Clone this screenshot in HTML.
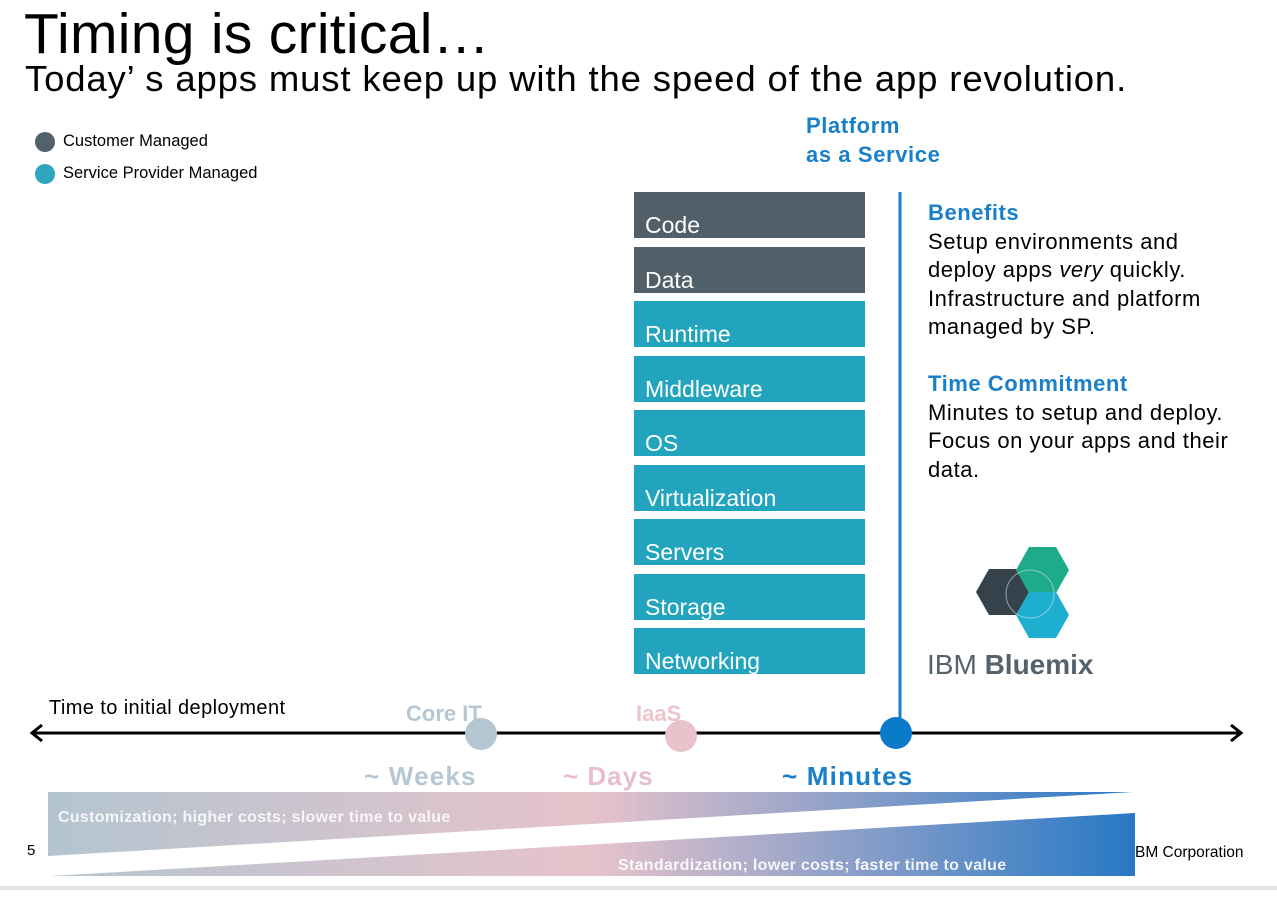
<!DOCTYPE html>
<html><head><meta charset="utf-8"><style>
body{margin:0;width:1277px;height:900px;background:#fff;position:relative;overflow:hidden;font-family:"Liberation Sans",Arial,sans-serif}
.a{position:absolute;white-space:nowrap}
.box{position:absolute;left:634px;width:231px;height:46px;color:#fff;font-size:23px;box-sizing:border-box;padding-left:11px;line-height:66px;overflow:hidden}
</style></head><body>
<div class="a" style="left:24px;top:2px;font-size:57px;line-height:64px;letter-spacing:0.3px">Timing is critical…</div>
<div class="a" style="left:25px;top:58px;font-size:36.5px;line-height:42px;letter-spacing:0.85px">Today’ s apps must keep up with the speed of the app revolution.</div>
<div class="a" style="left:35px;top:131px;font-size:16.5px;line-height:20px"><span style="display:inline-block;width:20px;height:20px;border-radius:50%;background:#52626d;vertical-align:middle;margin-right:8px"></span>Customer Managed</div>
<div class="a" style="left:35px;top:163px;font-size:16.5px;line-height:20px"><span style="display:inline-block;width:20px;height:20px;border-radius:50%;background:#2fa6c1;vertical-align:middle;margin-right:8px"></span>Service Provider Managed</div>
<div class="a" style="left:806px;top:111px;font-size:22px;line-height:29px;font-weight:bold;color:#1a7fc9;letter-spacing:0.6px">Platform<br>as a Service</div>
<div id="stack"></div>
<div class="a" style="left:928px;top:199px;font-size:22px;line-height:28.5px;letter-spacing:0.55px">
<b style="color:#1a7fc9">Benefits</b><br>Setup environments and<br>deploy apps <i>very</i> quickly.<br>Infrastructure and platform<br>managed by SP.<br><br><b style="color:#1a7fc9">Time Commitment</b><br>Minutes to setup and deploy.<br>Focus on your apps and their<br>data.</div>
<div class="a" style="left:927px;top:649px;font-size:28px;color:#55626b">IBM <b>Bluemix</b></div>
<div class="a" style="left:49px;top:697px;font-size:20px;letter-spacing:0.4px">Time to initial deployment</div>
<svg class="a" style="left:0;top:0" width="1277" height="900">
<defs><linearGradient id="g" x1="48" x2="1135" y1="0" y2="0" gradientUnits="userSpaceOnUse">
<stop offset="0" stop-color="#b3c5d0"/><stop offset="0.5" stop-color="#e7c3cb"/><stop offset="1" stop-color="#2778c6"/></linearGradient></defs>
<line x1="900" y1="192" x2="900" y2="733" stroke="#1a7fc9" stroke-width="3"/>
<g>
<polygon points="976,592 989,569 1016,569 1029,592 1016,615 989,615" fill="#36424b"/>
<polygon points="1016,570 1029,547 1056,547 1069,570 1056,593 1029,593" fill="#1eab8a"/>
<polygon points="1016,615 1029,592 1056,592 1069,615 1056,638 1029,638" fill="#1eaed0"/>
<circle cx="1030" cy="594" r="24" fill="none" stroke="#cfe3e6" stroke-width="1" opacity=".6"/></g>
<text x="406" y="721" font-size="22" font-weight="bold" fill="#b5c7d2">Core IT</text>
<text x="636" y="721" font-size="22" font-weight="bold" fill="#ecc4cc">IaaS</text>
<line x1="33" y1="733" x2="1240" y2="733" stroke="#000" stroke-width="3"/>
<polyline points="42,725 32,733 42,741" fill="none" stroke="#000" stroke-width="3"/>
<polyline points="1231,725 1241,733 1231,741" fill="none" stroke="#000" stroke-width="3"/>
<circle cx="481" cy="734" r="16" fill="#b4c6d2"/>
<circle cx="681" cy="736" r="16" fill="#e8c3cb"/>
<circle cx="896" cy="733" r="16" fill="#0a7bc8"/>
<text x="364" y="785" font-size="26" font-weight="bold" fill="#b5c7d2" letter-spacing="1.2">~ Weeks</text>
<text x="563" y="785" font-size="26" font-weight="bold" fill="#e8bec8" letter-spacing="1">~ Days</text>
<text x="782" y="785" font-size="26" font-weight="bold" fill="#1a7fc9" letter-spacing="1.2">~ Minutes</text>
<polygon points="48,792 1133,792 48,856" fill="url(#g)"/>
<polygon points="50,876 1135,813 1135,876" fill="url(#g)"/>
<text x="58" y="822" font-size="16" font-weight="bold" fill="#fff" opacity=".85" letter-spacing="0.3">Customization; higher costs; slower time to value</text>
<text x="618" y="870" font-size="16" font-weight="bold" fill="#fff" opacity=".9" letter-spacing="0.3">Standardization; lower costs; faster time to value</text>
<text x="27" y="855" font-size="15">5</text>
<text x="1135" y="857" font-size="15.5">BM Corporation</text>
<rect x="0" y="886" width="1277" height="4" fill="#e4e4e4"/>
</svg>
<script>
const layers=["Code","Data","Runtime","Middleware","OS","Virtualization","Servers","Storage","Networking"];
const managedBy=["customer","customer","sp","sp","sp","sp","sp","sp","sp"];
const st=document.getElementById('stack');
layers.forEach((n,i)=>{const d=document.createElement('div');d.className='box';
d.style.top=(192+i*54.5)+'px';d.style.background=managedBy[i]==='customer'?'#505f6a':'#22a4bf';d.textContent=n;


st.appendChild(d);});
</script>
</body></html>
